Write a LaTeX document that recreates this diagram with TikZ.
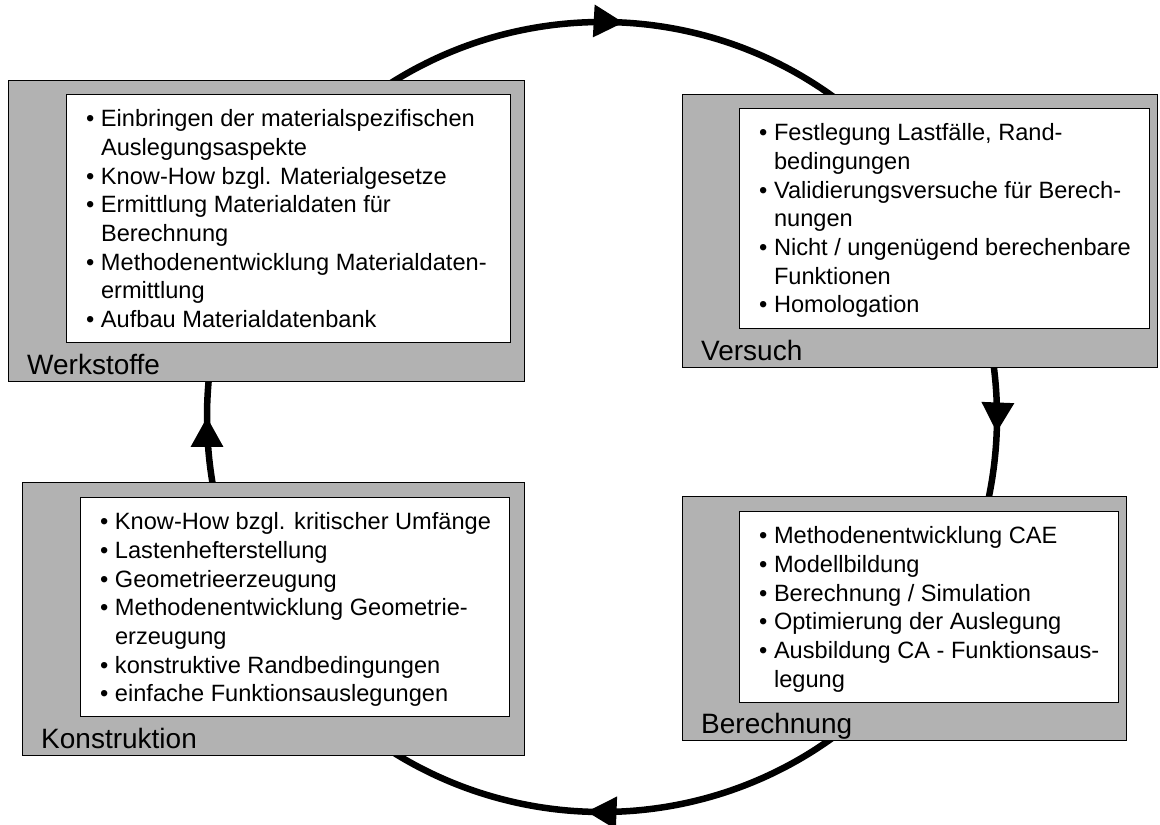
\documentclass[tikz,border=0pt]{standalone}
\usepackage{fontspec}
\setmainfont{Liberation Sans}
\usetikzlibrary{arrows.meta,decorations.markings}

\definecolor{kastengrau}{gray}{0.7}
\newcommand{\bul}{•\ }
\newcommand{\weiter}{\hphantom{•\ }}

\tikzset{
  aussen/.style={draw=black,line width=1.1pt,fill=kastengrau,anchor=north west,inner sep=0pt},
  innen/.style={draw=black,line width=1.1pt,fill=white,anchor=north west,inner sep=0pt},
  liste/.style={anchor=north west,inner sep=0pt,align=left,font=\fontsize{23.6}{28.7}\selectfont},
  titel/.style={anchor=base west,inner sep=0pt,font=\fontsize{28}{32}\selectfont},
  kreispfeil/.style={line width=6.5pt,postaction={decorate},
    decoration={markings,mark=at position #1 with {\arrow{Triangle[length=30pt,width=31pt]}}}}
}

\begin{document}
\begin{tikzpicture}[x=1pt,y=1pt]
\useasboundingbox (0,0) rectangle (1160,825);
% Kreislauf hinter den Kaesten
\coordinate (mitte) at (602,408);
\draw[kreispfeil=0.535] ([shift={(135:395)}]mitte) arc[start angle=135,end angle=45,radius=395];
\draw[kreispfeil=0.525] ([shift={(45:395)}]mitte) arc[start angle=45,end angle=-45,radius=395];
\draw[kreispfeil=0.525] ([shift={(-45:395)}]mitte) arc[start angle=-45,end angle=-135,radius=395];
\draw[kreispfeil=0.5] ([shift={(-135:395)}]mitte) arc[start angle=-135,end angle=-225,radius=395];

% Werkstoffe
\node[aussen,minimum width=516pt,minimum height=301pt] (werk) at (8,745) {};
\node[innen,minimum width=444pt,minimum height=248pt] (werkin) at (66,731) {};
\node[liste] (werktxt) at ([xshift=20pt]werkin.north west) {\rule{0pt}{32.5pt}\bul Einbringen der materialspezifischen\\
\weiter Auslegungsaspekte\\
\bul Know-How bzgl. Materialgesetze\\
\bul Ermittlung Materialdaten für\\
\weiter Berechnung\\
\bul Methodenentwicklung Materialdaten-\\
\weiter ermittlung\\
\bul Aufbau Materialdatenbank};
\node[titel] (werklab) at ([shift={(19pt,8pt)}]werk.south west) {Werkstoffe};

% Versuch
\node[aussen,minimum width=475pt,minimum height=273pt] (vers) at (682,731) {};
\node[innen,minimum width=410pt,minimum height=220pt] (versin) at (739,717) {};
\node[liste] (verstxt) at ([xshift=20pt]versin.north west) {\rule{0pt}{32.5pt}\bul Festlegung Lastfälle, Rand-\\
\weiter bedingungen\\
\bul Validierungsversuche für Berech-\\
\weiter nungen\\
\bul Nicht / ungenügend berechenbare\\
\weiter Funktionen\\
\bul Homologation};
\node[titel] (verslab) at ([shift={(19pt,8pt)}]vers.south west) {Versuch};

% Berechnung
\node[aussen,minimum width=444pt,minimum height=244pt] (bere) at (682,329) {};
\node[innen,minimum width=379pt,minimum height=191pt] (berein) at (739,314) {};
\node[liste] (beretxt) at ([xshift=20pt]berein.north west) {\rule{0pt}{32.5pt}\bul Methodenentwicklung CAE\\
\bul Modellbildung\\
\bul Berechnung / Simulation\\
\bul Optimierung der Auslegung\\
\bul Ausbildung CA - Funktionsaus-\\
\weiter legung};
\node[titel] (berelab) at ([shift={(19pt,8pt)}]bere.south west) {Berechnung};

% Konstruktion
\node[aussen,minimum width=502pt,minimum height=273pt] (kons) at (22,343) {};
\node[innen,minimum width=429pt,minimum height=219pt] (konsin) at (80,328) {};
\node[liste] (konstxt) at ([xshift=20pt]konsin.north west) {\rule{0pt}{32.5pt}\bul Know-How bzgl. kritischer Umfänge\\
\bul Lastenhefterstellung\\
\bul Geometrieerzeugung\\
\bul Methodenentwicklung Geometrie-\\
\weiter erzeugung\\
\bul konstruktive Randbedingungen\\
\bul einfache Funktionsauslegungen};
\node[titel] (konslab) at ([shift={(19pt,8pt)}]kons.south west) {Konstruktion};
\end{tikzpicture}
\end{document}
